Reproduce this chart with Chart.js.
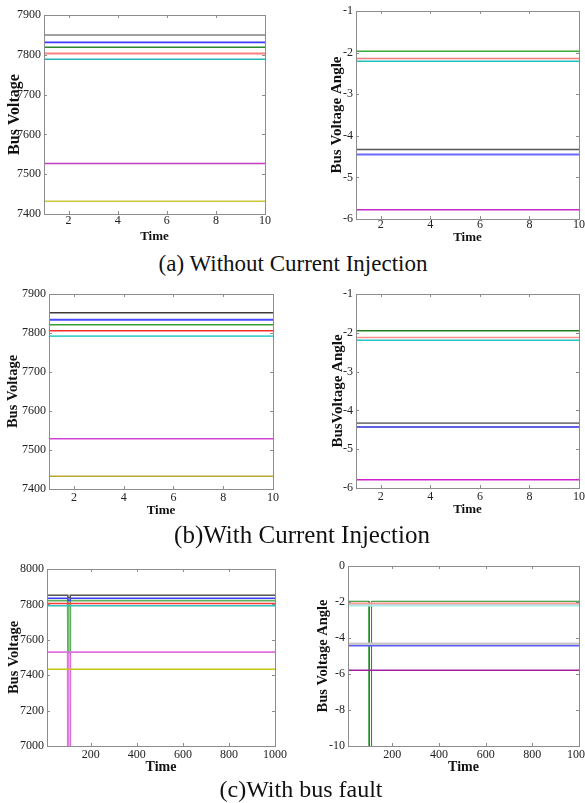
<!DOCTYPE html>
<html><head><meta charset="utf-8">
<script src="https://cdn.jsdelivr.net/npm/chart.js@4.4.1/dist/chart.umd.min.js"></script>
<style>
body{margin:0;background:#fff;width:585px;height:803px;position:relative;overflow:hidden;font-family:'Liberation Serif','Times New Roman',serif;}
.pane{position:absolute;}
.pane canvas{display:block;}
.cap{position:absolute;white-space:nowrap;color:#111;line-height:1;transform:translateX(-50%);}
</style></head><body>
<div class="pane" style="left:0;top:0"><canvas id="a1" width="290" height="250"></canvas></div>
<div class="pane" style="left:290px;top:0"><canvas id="a2" width="295" height="250"></canvas></div>
<div class="cap" style="left:293px;top:252px;font-size:23px">(a) Without Current Injection</div>
<div class="pane" style="left:0;top:280px"><canvas id="b1" width="290" height="250"></canvas></div>
<div class="pane" style="left:290px;top:280px"><canvas id="b2" width="295" height="250"></canvas></div>
<div class="cap" style="left:302px;top:522px;font-size:25px">(b)With Current Injection</div>
<div class="pane" style="left:0;top:555px"><canvas id="c1" width="290" height="225"></canvas></div>
<div class="pane" style="left:290px;top:555px"><canvas id="c2" width="295" height="225"></canvas></div>
<div class="cap" style="left:301px;top:777px;font-size:24px">(c)With bus fault</div>
<script>
// ---------- data ----------
const timeAB = [1,2,3,4,5,6,7,8,9,10];
const timeC  = [10,100,101,110,111,1000];

const ticksTimeAB = [2,4,6,8,10];
const ticksTimeC  = [200,400,600,800,1000];
const ticksVoltAB = [7400,7500,7600,7700,7800,7900];
const ticksVoltC  = [7000,7200,7400,7600,7800,8000];
const ticksAngAB  = [-6,-5,-4,-3,-2,-1];
const ticksAngC   = [-10,-8,-6,-4,-2,0];

// (a) without current injection
const aVoltGray    = [7850,7850,7850,7850,7850,7850,7850,7850,7850,7850];
const aVoltBlue    = [7831,7831,7831,7831,7831,7831,7831,7831,7831,7831];
const aVoltGreen   = [7819,7819,7819,7819,7819,7819,7819,7819,7819,7819];
const aVoltRed     = [7803,7803,7803,7803,7803,7803,7803,7803,7803,7803];
const aVoltCyan    = [7789,7789,7789,7789,7789,7789,7789,7789,7789,7789];
const aVoltMagenta = [7527,7527,7527,7527,7527,7527,7527,7527,7527,7527];
const aVoltYellow  = [7432,7432,7432,7432,7432,7432,7432,7432,7432,7432];

const aAngGreen   = [-1.97,-1.97,-1.97,-1.97,-1.97,-1.97,-1.97,-1.97,-1.97,-1.97];
const aAngRed     = [-2.14,-2.14,-2.14,-2.14,-2.14,-2.14,-2.14,-2.14,-2.14,-2.14];
const aAngCyan    = [-2.21,-2.21,-2.21,-2.21,-2.21,-2.21,-2.21,-2.21,-2.21,-2.21];
const aAngGray    = [-4.33,-4.33,-4.33,-4.33,-4.33,-4.33,-4.33,-4.33,-4.33,-4.33];
const aAngBlue    = [-4.45,-4.45,-4.45,-4.45,-4.45,-4.45,-4.45,-4.45,-4.45,-4.45];
const aAngMagenta = [-5.78,-5.78,-5.78,-5.78,-5.78,-5.78,-5.78,-5.78,-5.78,-5.78];

// (b) with current injection
const bVoltGray    = [7852,7852,7852,7852,7852,7852,7852,7852,7852,7852];
const bVoltBlue    = [7834,7834,7834,7834,7834,7834,7834,7834,7834,7834];
const bVoltGreen   = [7821,7821,7821,7821,7821,7821,7821,7821,7821,7821];
const bVoltRed     = [7806,7806,7806,7806,7806,7806,7806,7806,7806,7806];
const bVoltCyan    = [7792,7792,7792,7792,7792,7792,7792,7792,7792,7792];
const bVoltMagenta = [7529,7529,7529,7529,7529,7529,7529,7529,7529,7529];
const bVoltYellow  = [7433,7433,7433,7433,7433,7433,7433,7433,7433,7433];

const bAngGreen   = [-1.95,-1.95,-1.95,-1.95,-1.95,-1.95,-1.95,-1.95,-1.95,-1.95];
const bAngRed     = [-2.12,-2.12,-2.12,-2.12,-2.12,-2.12,-2.12,-2.12,-2.12,-2.12];
const bAngCyan    = [-2.19,-2.19,-2.19,-2.19,-2.19,-2.19,-2.19,-2.19,-2.19,-2.19];
const bAngGray    = [-4.33,-4.33,-4.33,-4.33,-4.33,-4.33,-4.33,-4.33,-4.33,-4.33];
const bAngBlue    = [-4.43,-4.43,-4.43,-4.43,-4.43,-4.43,-4.43,-4.43,-4.43,-4.43];
const bAngMagenta = [-5.79,-5.79,-5.79,-5.79,-5.79,-5.79,-5.79,-5.79,-5.79,-5.79];

// (c) with bus fault (fault between t=100 and t=110)
const cVoltGray    = [7852,7852,7838,7838,7852,7852];
const cVoltBlue    = [7835,7835,7822,7822,7835,7835];
const cVoltRed     = [7805,7805,7805,7805,7805,7805];
const cVoltCyan    = [7792,7792,7792,7792,7792,7792];
const cVoltYellow  = [7433,7433,7433,7433,7433,7433];
const cVoltMagenta = [7530,7530,6500,6500,7530,7530];
const cVoltGreen   = [7821,7821,7528,7528,7821,7821];

const cAngRed     = [-2.09,-2.09,-2.09,-2.09,-2.09,-2.09];
const cAngCyan    = [-2.20,-2.20,-2.20,-2.20,-2.20,-2.20];
const cAngGray    = [-4.32,-4.32,-4.32,-4.32,-4.32,-4.32];
const cAngBlue    = [-4.43,-4.43,-4.43,-4.43,-4.43,-4.43];
const cAngMagenta = [-5.79,-5.79,-5.79,-5.79,-5.79,-5.79];
const cAngGreen   = [-1.96,-1.96,-15,-15,-1.96,-1.96];

// ---------- drawing ----------
const SERIF = "'Liberation Serif','Times New Roman',serif";

const boxPlugin = {
  id: 'box',
  afterDatasetsDraw(chart) {
    const {ctx, chartArea: a, scales} = chart;
    ctx.save();
    ctx.strokeStyle = '#8c8c8c';
    ctx.lineWidth = 1;
    ctx.beginPath();
    const L = 3;
    scales.x.ticks.forEach(t => {
      const px = Math.round(scales.x.getPixelForValue(t.value)) + 0.5;
      ctx.moveTo(px, a.bottom); ctx.lineTo(px, a.bottom - L);
      ctx.moveTo(px, a.top); ctx.lineTo(px, a.top + L);
    });
    scales.y.ticks.forEach(t => {
      const py = Math.round(scales.y.getPixelForValue(t.value)) + 0.5;
      ctx.moveTo(a.left, py); ctx.lineTo(a.left + L, py);
      ctx.moveTo(a.right, py); ctx.lineTo(a.right - L, py);
    });
    ctx.stroke();
    ctx.strokeRect(Math.round(a.left) + 0.5, Math.round(a.top) + 0.5,
                   Math.round(a.right - a.left), Math.round(a.bottom - a.top));
    ctx.restore();
  }
};

function makeChart(id, p) {
  const canvas = document.getElementById(id);
  const W = canvas.width, H = canvas.height;
  const datasets = p.series.map(s => ({
    data: s.values.map((v, i) => ({x: p.time[i], y: v})),
    borderColor: s.color,
    borderWidth: s.width || 1.5,
    pointRadius: 0,
    tension: 0,
    fill: false
  }));
  new Chart(canvas, {
    type: 'line',
    data: {datasets},
    plugins: [boxPlugin],
    options: {
      responsive: false,
      animation: false,
      events: [],
      layout: {padding: {left: 0, bottom: 0, top: p.t, right: W - p.r}},
      plugins: {legend: {display: false}, tooltip: {enabled: false}},
      scales: {
        x: {
          type: 'linear', min: p.xMin, max: p.xMax,
          afterBuildTicks: sc => { sc.ticks = p.xTicks.map(v => ({value: v})); },
          afterFit: sc => { sc.height = H - p.b; sc.paddingLeft = 0; sc.paddingRight = 0; },
          grid: {display: false, drawTicks: false},
          border: {display: false},
          ticks: {font: {family: SERIF, size: p.tickSize}, color: '#222',
                  padding: p.xTickY - p.b - 0.6 * p.tickSize, maxRotation: 0, autoSkip: false,
                  callback: v => String(v)},
          title: {display: true, text: 'Time', color: '#111',
                  font: {family: SERIF, size: p.xTitleSize, weight: 'bold'},
                  padding: {top: 0, bottom: H - p.xTitleY - 0.6 * p.xTitleSize}}
        },
        y: {
          type: 'linear', min: p.yMin, max: p.yMax,
          afterBuildTicks: sc => { sc.ticks = p.yTicks.map(v => ({value: v})); },
          afterFit: sc => { sc.width = p.l; sc.paddingTop = 0; sc.paddingBottom = 0; },
          grid: {display: false, drawTicks: false},
          border: {display: false},
          ticks: {font: {family: SERIF, size: p.tickSize}, color: '#222', padding: 3, autoSkip: false,
                  callback: v => String(v)},
          title: {display: true, text: p.yTitle, color: '#111',
                  font: {family: SERIF, size: p.yTitleSize, weight: 'bold'},
                  padding: {top: p.yTitleX - 0.6 * p.yTitleSize, bottom: 0}}
        }
      }
    }
  });
}

makeChart('a1', {
  l: 44, t: 15, r: 265, b: 214, xTickY: 221, xTitleY: 237, yTitleX: 15,
  tickSize: 12, xTitleSize: 13, yTitleSize: 16, yTitle: 'Bus Voltage',
  xMin: 1, xMax: 10, xTicks: ticksTimeAB, yMin: 7400, yMax: 7900, yTicks: ticksVoltAB,
  time: timeAB,
  series: [
    {values: aVoltYellow, color: '#c9c63c'},
    {values: aVoltMagenta, color: '#c23cc2'},
    {values: aVoltCyan, color: '#22b4b4'},
    {values: aVoltRed, color: '#ff8080', width: 2},
    {values: aVoltGreen, color: '#2c8a2c'},
    {values: aVoltBlue, color: '#3c3cff', width: 1.8},
    {values: aVoltGray, color: '#808080'}
  ]
});

makeChart('a2', {
  l: 66, t: 11, r: 289, b: 219, xTickY: 225, xTitleY: 238, yTitleX: 47,
  tickSize: 12, xTitleSize: 13, yTitleSize: 15, yTitle: 'Bus Voltage Angle',
  xMin: 1, xMax: 10, xTicks: ticksTimeAB, yMin: -6, yMax: -1, yTicks: ticksAngAB,
  time: timeAB,
  series: [
    {values: aAngMagenta, color: '#c828c8'},
    {values: aAngBlue, color: '#6a6aff', width: 2},
    {values: aAngGray, color: '#555555'},
    {values: aAngCyan, color: '#22c0c0'},
    {values: aAngRed, color: '#f07a7a'},
    {values: aAngGreen, color: '#3aaa3a'}
  ]
});

makeChart('b1', {
  l: 49, t: 14, r: 273, b: 209, xTickY: 218, xTitleY: 231, yTitleX: 13,
  tickSize: 12, xTitleSize: 13, yTitleSize: 14.5, yTitle: 'Bus Voltage',
  xMin: 1, xMax: 10, xTicks: ticksTimeAB, yMin: 7400, yMax: 7900, yTicks: ticksVoltAB,
  time: timeAB,
  series: [
    {values: bVoltYellow, color: '#b8a830'},
    {values: bVoltMagenta, color: '#d444d4'},
    {values: bVoltCyan, color: '#44d0d0', width: 1.8},
    {values: bVoltRed, color: '#ff2a2a'},
    {values: bVoltGreen, color: '#33a033'},
    {values: bVoltBlue, color: '#4848ff', width: 1.8},
    {values: bVoltGray, color: '#3c3c3c'}
  ]
});

makeChart('b2', {
  l: 66, t: 14, r: 289, b: 208, xTickY: 217, xTitleY: 230, yTitleX: 48,
  tickSize: 12, xTitleSize: 13, yTitleSize: 15, yTitle: 'BusVoltage Angle',
  xMin: 1, xMax: 10, xTicks: ticksTimeAB, yMin: -6, yMax: -1, yTicks: ticksAngAB,
  time: timeAB,
  series: [
    {values: bAngMagenta, color: '#d020d0'},
    {values: bAngBlue, color: '#2a2ae0'},
    {values: bAngGray, color: '#7a7a7a', width: 1.8},
    {values: bAngCyan, color: '#22c4c4'},
    {values: bAngRed, color: '#ff9090'},
    {values: bAngGreen, color: '#1e7e1e'}
  ]
});

makeChart('c1', {
  l: 47, t: 14, r: 275, b: 191, xTickY: 200, xTitleY: 212, yTitleX: 14,
  tickSize: 12, xTitleSize: 14, yTitleSize: 14.5, yTitle: 'Bus Voltage',
  xMin: 10, xMax: 1000, xTicks: ticksTimeC, yMin: 7000, yMax: 8000, yTicks: ticksVoltC,
  time: timeC,
  series: [
    {values: cVoltYellow, color: '#c8c414'},
    {values: cVoltRed, color: '#ff3a3a'},
    {values: cVoltCyan, color: '#30c0c0'},
    {values: cVoltMagenta, color: '#e070e0', width: 1.8},
    {values: cVoltGray, color: '#555555'},
    {values: cVoltBlue, color: '#3c3cff'},
    {values: cVoltGreen, color: '#5cb05c', width: 1.8}
  ]
});

makeChart('c2', {
  l: 58, t: 11, r: 289, b: 191, xTickY: 200, xTitleY: 212, yTitleX: 33,
  tickSize: 12, xTitleSize: 14, yTitleSize: 14.5, yTitle: 'Bus Voltage Angle',
  xMin: 10, xMax: 1000, xTicks: ticksTimeC, yMin: -10, yMax: 0, yTicks: ticksAngC,
  time: timeC,
  series: [
    {values: cAngMagenta, color: '#a020a0'},
    {values: cAngGray, color: '#c8c8c8', width: 2.5},
    {values: cAngBlue, color: '#5a5aff'},
    {values: cAngCyan, color: '#a8ecec', width: 2},
    {values: cAngRed, color: '#ff9a9a', width: 2.2},
    {values: cAngGreen, color: '#1a8a1a', width: 1}
  ]
});
</script>
</body></html>
